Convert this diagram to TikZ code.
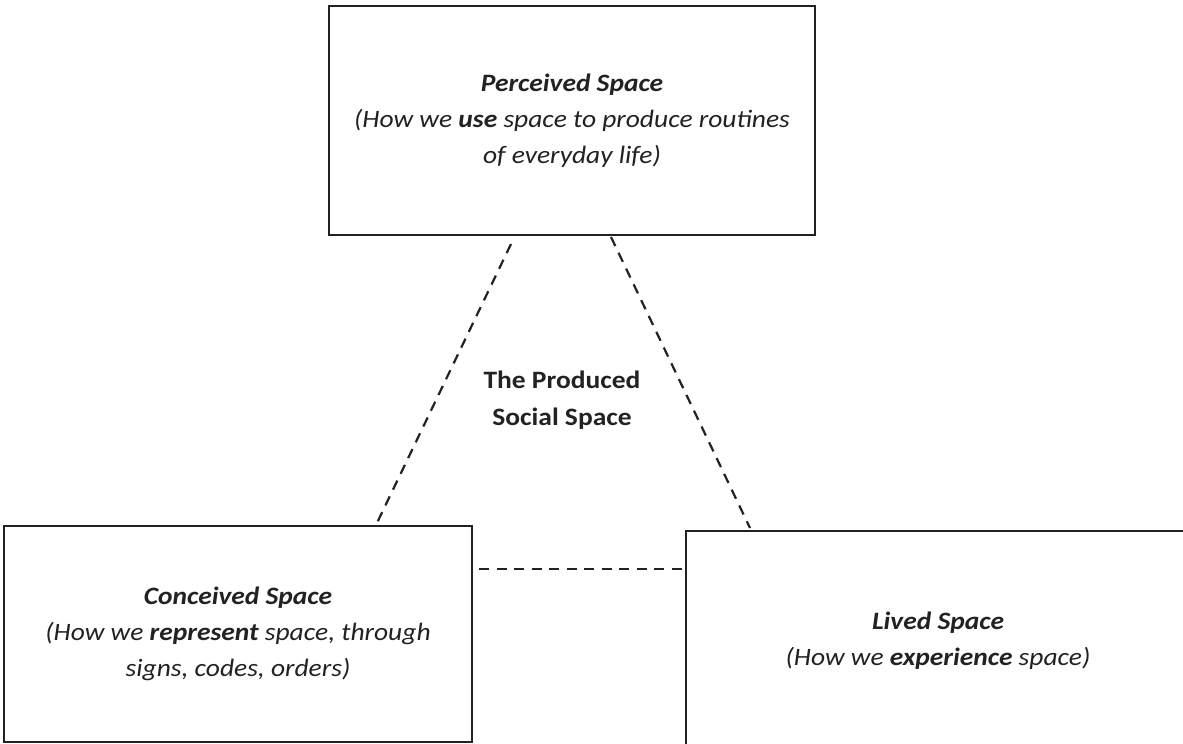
\documentclass[tikz,border=0pt]{standalone}
\usepackage{fontspec}
\setmainfont[FakeStretch=1.1]{Carlito}
\usetikzlibrary{calc}
\definecolor{ink}{HTML}{222222}
\begin{document}
\begin{tikzpicture}[x=1pt,y=-1pt,
  spacebox/.style={draw=ink,line width=2pt,rectangle,inner sep=0pt,align=center,
    font=\fontsize{25}{36}\selectfont,text=ink},
  link/.style={draw=ink,line width=2.2pt,dash pattern=on 10pt off 7.5pt}]
\useasboundingbox[fill=white] (0,0) rectangle (1183,744);
\node[spacebox,minimum width=486pt,minimum height=229pt] (per) at (572,120.5)
  {\textbf{\textit{Perceived Space}}\\\textit{(How we \textbf{use} space to produce routines}\\\textit{of everyday life)}};
\node[spacebox,minimum width=468pt,minimum height=216pt] (con) at (238,634)
  {\textbf{\textit{Conceived Space}}\\\textit{(How we \textbf{represent} space, through}\\\textit{signs, codes, orders)}};
\node[spacebox,minimum width=504pt,minimum height=220pt] (liv) at (938,641)
  {\textbf{\textit{Lived Space}}\\\textit{(How we \textbf{experience} space)}};
\node[align=center,font=\fontsize{25}{37}\selectfont\bfseries,text=ink] (soc) at (562,400)
  {The Produced\\Social Space};
\coordinate (p1) at ($(per.south west)+(183,8)$);
\coordinate (c1) at ($(con.north west)+(373,0)$);
\coordinate (p2) at ($(per.south west)+(283,1)$);
\coordinate (l1) at ($(liv.north west)+(65,-2)$);
\coordinate (c2) at ($(con.east)+(6,-65)$);
\coordinate (l2) at ($(liv.west)+(-3,-72)$);
\draw[link] (p1) -- (c1);
\draw[link] (p2) -- (l1);
\draw[link] (c2) -- (l2);
\end{tikzpicture}
\end{document}
